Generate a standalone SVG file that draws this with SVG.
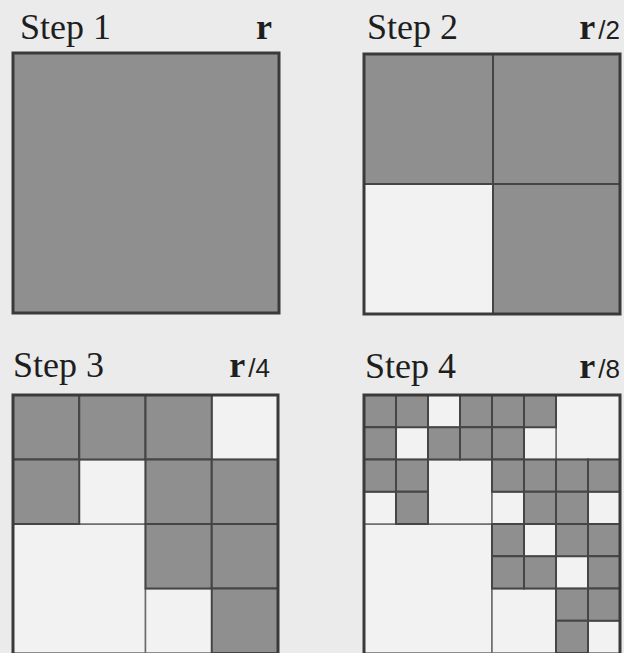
<svg xmlns="http://www.w3.org/2000/svg" width="624" height="653" viewBox="0 0 624 653">
<style>
.g{fill:#8f8f8f;stroke:#454545;stroke-width:2}
.w{fill:#f2f2f2;stroke:#6a6a6a;stroke-width:1.5}
.f{fill:none;stroke:#3a3a3a;stroke-width:3}
.t{font-family:"Liberation Serif","Times New Roman",serif;font-size:36px;fill:#1e1e1e}
.r{font-family:"Liberation Serif","Times New Roman",serif;font-size:36px;font-weight:bold;fill:#1e1e1e}
.n{font-family:"Liberation Sans",Arial,sans-serif;font-size:26px;fill:#1e1e1e}
</style>
<rect x="0" y="0" width="624" height="653" fill="#ebebeb"/>
<g id="step1">
<text class="t" x="20" y="39">Step 1</text>
<text class="r" x="256" y="39">r</text>
<rect class="g" x="13" y="53" width="266" height="260"/>
<rect class="f" x="13" y="53" width="266" height="260"/>
</g>
<g id="step2">
<text class="t" x="367" y="39">Step 2</text>
<text x="620" y="39" text-anchor="end"><tspan class="r">r</tspan><tspan class="n" dx="3">/2</tspan></text>
<rect class="w" x="364" y="184" width="129" height="130"/>
<rect class="g" x="364" y="54" width="129" height="130"/>
<rect class="g" x="493" y="54" width="127" height="130"/>
<rect class="g" x="493" y="184" width="127" height="130"/>
<rect class="f" x="364" y="54" width="256" height="260"/>
</g>
<g id="step3">
<text class="t" x="13" y="377">Step 3</text>
<text x="270" y="377" text-anchor="end"><tspan class="r">r</tspan><tspan class="n" dx="3">/4</tspan></text>
<rect class="w" x="13" y="524" width="132.5" height="129"/>
<rect class="w" x="211.75" y="395" width="66.25" height="64.5"/>
<rect class="w" x="79.25" y="459.5" width="66.25" height="64.5"/>
<rect class="w" x="145.5" y="588.5" width="66.25" height="64.5"/>
<rect class="g" x="13" y="395" width="66.25" height="64.5"/>
<rect class="g" x="79.25" y="395" width="66.25" height="64.5"/>
<rect class="g" x="145.5" y="395" width="66.25" height="64.5"/>
<rect class="g" x="13" y="459.5" width="66.25" height="64.5"/>
<rect class="g" x="145.5" y="459.5" width="66.25" height="64.5"/>
<rect class="g" x="211.75" y="459.5" width="66.25" height="64.5"/>
<rect class="g" x="145.5" y="524" width="66.25" height="64.5"/>
<rect class="g" x="211.75" y="524" width="66.25" height="64.5"/>
<rect class="g" x="211.75" y="588.5" width="66.25" height="64.5"/>
<rect class="f" x="13" y="395" width="265" height="260"/>
</g>
<g id="step4">
<text class="t" x="365" y="378">Step 4</text>
<text x="620" y="378" text-anchor="end"><tspan class="r">r</tspan><tspan class="n" dx="3">/8</tspan></text>
<rect class="w" x="364" y="524" width="128" height="129"/>
<rect class="w" x="428" y="459.5" width="64" height="64.5"/>
<rect class="w" x="556" y="395" width="64" height="64.5"/>
<rect class="w" x="492" y="588.5" width="64" height="64.5"/>
<rect class="w" x="428" y="395" width="32" height="32.25"/>
<rect class="w" x="396" y="427.25" width="32" height="32.25"/>
<rect class="w" x="524" y="427.25" width="32" height="32.25"/>
<rect class="w" x="364" y="491.75" width="32" height="32.25"/>
<rect class="w" x="492" y="491.75" width="32" height="32.25"/>
<rect class="w" x="588" y="491.75" width="32" height="32.25"/>
<rect class="w" x="524" y="524" width="32" height="32.25"/>
<rect class="w" x="556" y="556.25" width="32" height="32.25"/>
<rect class="w" x="588" y="620.75" width="32" height="32.25"/>
<rect class="g" x="364" y="395" width="32" height="32.25"/>
<rect class="g" x="396" y="395" width="32" height="32.25"/>
<rect class="g" x="460" y="395" width="32" height="32.25"/>
<rect class="g" x="492" y="395" width="32" height="32.25"/>
<rect class="g" x="524" y="395" width="32" height="32.25"/>
<rect class="g" x="364" y="427.25" width="32" height="32.25"/>
<rect class="g" x="428" y="427.25" width="32" height="32.25"/>
<rect class="g" x="460" y="427.25" width="32" height="32.25"/>
<rect class="g" x="492" y="427.25" width="32" height="32.25"/>
<rect class="g" x="364" y="459.5" width="32" height="32.25"/>
<rect class="g" x="396" y="459.5" width="32" height="32.25"/>
<rect class="g" x="492" y="459.5" width="32" height="32.25"/>
<rect class="g" x="524" y="459.5" width="32" height="32.25"/>
<rect class="g" x="556" y="459.5" width="32" height="32.25"/>
<rect class="g" x="588" y="459.5" width="32" height="32.25"/>
<rect class="g" x="396" y="491.75" width="32" height="32.25"/>
<rect class="g" x="524" y="491.75" width="32" height="32.25"/>
<rect class="g" x="556" y="491.75" width="32" height="32.25"/>
<rect class="g" x="492" y="524" width="32" height="32.25"/>
<rect class="g" x="556" y="524" width="32" height="32.25"/>
<rect class="g" x="588" y="524" width="32" height="32.25"/>
<rect class="g" x="492" y="556.25" width="32" height="32.25"/>
<rect class="g" x="524" y="556.25" width="32" height="32.25"/>
<rect class="g" x="588" y="556.25" width="32" height="32.25"/>
<rect class="g" x="556" y="588.5" width="32" height="32.25"/>
<rect class="g" x="588" y="588.5" width="32" height="32.25"/>
<rect class="g" x="556" y="620.75" width="32" height="32.25"/>
<rect class="f" x="364" y="395" width="256" height="260"/>
</g>
</svg>
